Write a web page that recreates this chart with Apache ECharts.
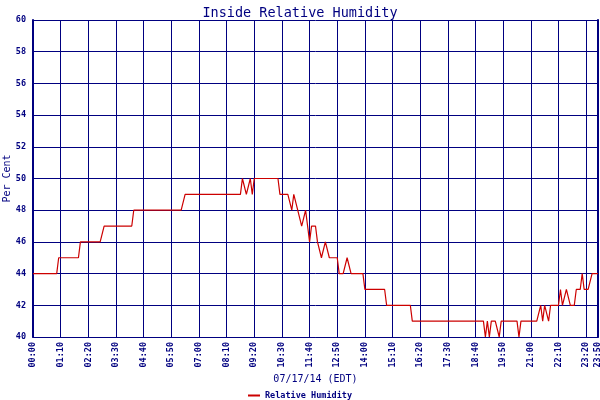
<!DOCTYPE html>
<html><head><meta charset="utf-8">
<script src="https://cdn.jsdelivr.net/npm/echarts@6/dist/echarts.min.js"></script>
<style>html,body{margin:0;padding:0;background:#fff}#c{width:600px;height:400px}</style>
</head><body><div id="c"></div>
<script>
const titleText = 'Inside Relative Humidity';
const yName = 'Per Cent';
const xName = '07/17/14 (EDT)';
const seriesName = 'Relative Humidity';
const tickLabels = ['00:00','01:10','02:20','03:30','04:40','05:50','07:00','08:10','09:20','10:30','11:40','12:50','14:00','15:10','16:20','17:30','18:40','19:50','21:00','22:10','23:20','23:50'];
// 5-minute samples 00:00 .. 23:50, one row per hour
const humidity = [
  44,44,44,44,44,44,44,44,44,44,44,44,
  44,45,45,45,45,45,45,45,45,45,45,45,
  46,46,46,46,46,46,46,46,46,46,46,46,
  47,47,47,47,47,47,47,47,47,47,47,47,
  47,47,47,48,48,48,48,48,48,48,48,48,
  48,48,48,48,48,48,48,48,48,48,48,48,
  48,48,48,48,48,49,49,49,49,49,49,49,
  49,49,49,49,49,49,49,49,49,49,49,49,
  49,49,49,49,49,49,49,49,49,49,50,50,
  49,49,50,49,50,50,50,50,50,50,50,50,
  50,50,50,50,50,49,49,49,49,49,49,48,
  49,49,48,48,47,47,48,47,46,47,47,47,
  46,46,45,45,46,46,45,45,45,45,45,44,
  44,44,44,45,45,44,44,44,44,44,44,44,
  43,43,43,43,43,43,43,43,43,43,43,42,
  42,42,42,42,42,42,42,42,42,42,42,42,
  41,41,41,41,41,41,41,41,41,41,41,41,
  41,41,41,41,41,41,41,41,41,41,41,41,
  41,41,41,41,41,41,41,41,41,41,41,41,
  41,40,41,40,41,41,41,41,40,41,41,41,
  41,41,41,41,41,41,40,41,41,41,41,41,
  41,41,41,41,41,42,41,42,42,41,42,42,
  42,42,42,43,42,42,43,43,42,42,42,43,
  43,43,44,43,43,43,43,44,44,44,44
];
const categories = [];
for (let m = 0; m <= 1430; m += 5) {
  const h = Math.floor(m / 60), mm = m % 60;
  categories.push(String(h).padStart(2,'0') + ':' + String(mm).padStart(2,'0'));
}
const NAVY = '#000080';
const FONT = 'DejaVu Sans Mono';
const showTick = (i, v) => tickLabels.indexOf(categories[i]) >= 0;

const chart = echarts.init(document.getElementById('c'), null, {renderer: 'canvas'});
chart.setOption({
  animation: false,
  backgroundColor: '#ffffff',
  title: {
    text: titleText, left: 'center', top: 1,
    textStyle: {color: NAVY, fontFamily: FONT, fontSize: 13.5, fontWeight: 'normal'}
  },
  legend: {
    bottom: 0, left: 'center', padding: 0, icon: 'rect', itemWidth: 12, itemHeight: 2, itemGap: 4,
    data: [seriesName],
    textStyle: {color: NAVY, fontFamily: FONT, fontSize: 8.5, fontWeight: 'bold'}
  },
  grid: {left: 33, right: 2, top: 20, bottom: 63, containLabel: false, outerBoundsMode: 'none'},
  xAxis: {
    type: 'category', data: categories, boundaryGap: false,
    name: xName, nameLocation: 'middle', nameGap: 37, nameMoveOverlap: false,
    nameTextStyle: {color: NAVY, fontFamily: FONT, fontSize: 10},
    axisLine: {lineStyle: {color: NAVY, width: 1}},
    axisTick: {show: false},
    axisLabel: {interval: showTick, rotate: 90, color: NAVY, fontFamily: FONT, fontSize: 8.5, fontWeight: 'bold', margin: 5, hideOverlap: false},
    splitLine: {show: true, interval: showTick, lineStyle: {color: NAVY, width: 1}}
  },
  yAxis: [{
    type: 'value', min: 40, max: 60, interval: 2,
    name: yName, nameLocation: 'middle', nameGap: 21, nameRotate: 90, nameMoveOverlap: false,
    nameTextStyle: {color: NAVY, fontFamily: FONT, fontSize: 10},
    axisLine: {show: true, lineStyle: {color: NAVY, width: 2}},
    axisTick: {show: false},
    axisLabel: {color: NAVY, fontFamily: FONT, fontSize: 8.5, fontWeight: 'bold', margin: 7},
    splitLine: {show: true, lineStyle: {color: NAVY, width: 1}}
  }, {
    type: 'value', min: 40, max: 60, interval: 2, position: 'right',
    axisLine: {show: true, lineStyle: {color: NAVY, width: 2}},
    axisTick: {show: false}, axisLabel: {show: false}, splitLine: {show: false}
  }],
  series: [{
    name: seriesName, type: 'line', data: humidity, showSymbol: false, symbol: 'none',
    color: '#cc0000', lineStyle: {color: '#cc0000', width: 1.2}
  }]
});
</script>
</body></html>
